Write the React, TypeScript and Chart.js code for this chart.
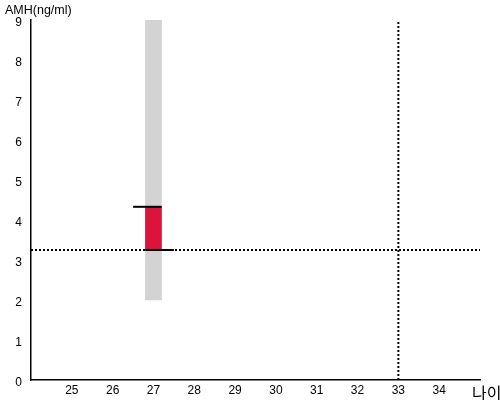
import React, { useEffect, useRef } from "react";
import { Chart, registerables } from "chart.js";

Chart.register(...registerables);

const xTicks = [24, 25, 26, 27, 28, 29, 30, 31, 32, 33, 34, 35];
const yTicks = [0, 1, 2, 3, 4, 5, 6, 7, 8, 9];
const age = 27;
const normalRange = [2, 9];
const amhRange = [3.25, 4.33];
const topMarker = [26.5, 27.2];
const bottomMarker = [26.8, 27.5];
const refAmh = 3.25;
const refAge = 33;
const yTitle = "AMH(ng/ml)";
const xTitle = "나이";

const FONT = "'Liberation Sans', Arial, sans-serif";

export default function App() {
  const ref = useRef<HTMLCanvasElement>(null);
  useEffect(() => {
    document.body.style.margin = "0";
    const textPlugin = {
      id: "texts",
      afterDraw(chart: any) {
        const ctx = chart.ctx;
        const ys = chart.scales.y;
        ctx.save();
        ctx.fillStyle = "#000";
        ctx.font = `12px ${FONT}`;
        ctx.textAlign = "right";
        ctx.textBaseline = "middle";
        yTicks.forEach((v) => {
          ctx.fillText(String(v), ys.right - 9, ys.getPixelForValue(v) + 3);
        });
        ctx.font = `12.5px ${FONT}`;
        ctx.textBaseline = "top";
        ctx.textAlign = "left";
        ctx.fillText(yTitle, 5, 4);
        ctx.font = "16px 'Noto Sans CJK KR', sans-serif";
        ctx.textBaseline = "alphabetic";
        ctx.fillText(xTitle, 472, 399);
        ctx.restore();
      },
    };
    const chart = new Chart(ref.current!, {
      type: "bar",
      data: {
        datasets: [
          {
            type: "line",
            data: [{ x: xTicks[0], y: refAmh }, { x: xTicks[xTicks.length - 1], y: refAmh }],
            borderColor: "#000",
            borderWidth: 2,
            borderDash: [2, 2],
            pointRadius: 0,
            order: 1,
          } as any,
          {
            type: "line",
            data: [{ x: refAge, y: yTicks[0] }, { x: refAge, y: yTicks[yTicks.length - 1] }],
            borderColor: "#000",
            borderWidth: 2,
            borderDash: [2, 2],
            pointRadius: 0,
            order: 1,
          } as any,
          {
            type: "line",
            data: [{ x: topMarker[0], y: amhRange[1] }, { x: topMarker[1], y: amhRange[1] }],
            borderColor: "#000",
            borderWidth: 2,
            pointRadius: 0,
            order: 0,
          } as any,
          {
            type: "line",
            data: [{ x: bottomMarker[0], y: amhRange[0] }, { x: bottomMarker[1], y: amhRange[0] }],
            borderColor: "#000",
            borderWidth: 2,
            pointRadius: 0,
            order: 0,
          } as any,
          {
            type: "bar",
            data: [{ x: age, y: amhRange }],
            backgroundColor: "#dc143c",
            barThickness: 16,
            grouped: false,
            order: 2,
          } as any,
          {
            type: "bar",
            data: [{ x: age, y: normalRange }],
            backgroundColor: "#d3d3d3",
            barThickness: 16,
            grouped: false,
            order: 3,
          } as any,
        ],
      },
      options: {
        responsive: false,
        animation: false,
        layout: { padding: { top: 20, right: 20, left: 0, bottom: 0 } },
        plugins: { legend: { display: false }, tooltip: { enabled: false } },
        scales: {
          x: {
            type: "linear",
            offset: false,
            min: xTicks[0],
            max: xTicks[xTicks.length - 1],
            grid: { display: false, drawTicks: false },
            border: { display: true, color: "#000", width: 1.5 },
            afterBuildTicks: (s: any) => {
              s.ticks = xTicks.map((v) => ({ value: v }));
            },
            afterFit: (s: any) => {
              s.height = 20;
            },
            ticks: {
              color: "#000",
              padding: 3,
              maxRotation: 0,
              autoSkip: false,
              font: { family: FONT, size: 12 },
              callback: (v: any) =>
                v === xTicks[0] || v === xTicks[xTicks.length - 1] ? "" : String(v),
            },
          },
          y: {
            type: "linear",
            min: yTicks[0],
            max: yTicks[yTicks.length - 1],
            grid: { display: false, drawTicks: false },
            border: { display: true, color: "#000", width: 1.5 },
            afterBuildTicks: (s: any) => {
              s.ticks = yTicks.map((v) => ({ value: v }));
            },
            afterFit: (s: any) => {
              s.width = 31;
            },
            ticks: { display: false },
          },
        },
      },
      plugins: [textPlugin],
    });
    return () => chart.destroy();
  }, []);
  return (
    <div style={{ position: "absolute", left: 0, top: 0, width: 500, height: 400 }}>
      <canvas ref={ref} width={500} height={400} />
    </div>
  );
}
